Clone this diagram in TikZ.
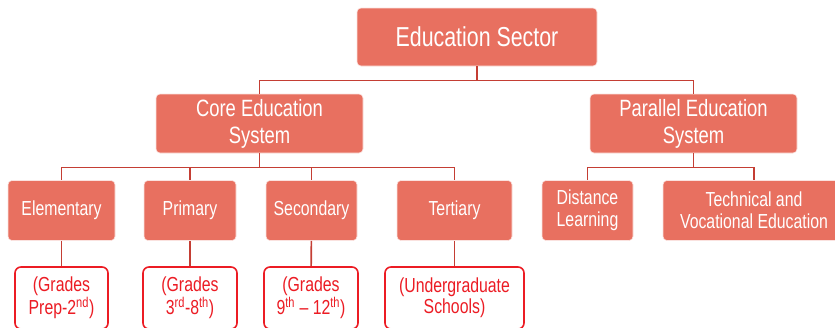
\documentclass[tikz,border=0pt]{standalone}
\usepackage{fontspec}
\setmainfont{Liberation Sans}[FakeStretch=0.78]
\usepackage{xcolor}
\usepackage{tikz}
\usetikzlibrary{positioning, calc}

\definecolor{salmon}{RGB}{232,112,96}
\definecolor{linkred}{RGB}{196,62,52}
\definecolor{gradered}{RGB}{236,28,36}

\begin{document}
\begin{tikzpicture}[
  x=1pt, y=-1pt,
  topblock/.style={rectangle, rounded corners=4pt, fill=salmon, draw=white!80!salmon, line width=0.6pt, text=white, align=center, inner sep=2pt},
  gradeblock/.style={rectangle, rounded corners=6pt, draw=gradered, line width=1.6pt, fill=white, text=gradered, align=center, inner sep=2pt, font=\fontsize{20.3}{21}\selectfont},
  link/.style={draw=linkred, line width=1.6pt}
]
\useasboundingbox (0,0) rectangle (835,327);

% Top level
\node[topblock, minimum width=240pt, minimum height=58pt, font=\fontsize{27.4}{30}\selectfont] (sector) at (477,37) {Education Sector};

% Second level
\node[topblock, minimum width=207pt, minimum height=59pt, font=\fontsize{23.6}{27}\selectfont] (core) at (259.5,123.5) {Core Education\\System};
\node[topblock, minimum width=207pt, minimum height=59pt, font=\fontsize{23.6}{27}\selectfont] (parallel) at (693.5,123.5) {Parallel Education\\System};

% Third level
\node[topblock, minimum width=107pt, minimum height=60pt, font=\fontsize{20.3}{22}\selectfont] (elem) at (61.5,210.5) {Elementary};
\node[topblock, minimum width=92pt, minimum height=60pt, font=\fontsize{20.3}{22}\selectfont] (prim) at (190,210.5) {Primary};
\node[topblock, minimum width=91pt, minimum height=60pt, font=\fontsize{20.3}{22}\selectfont] (sec) at (311.5,210.5) {Secondary};
\node[topblock, minimum width=115pt, minimum height=60pt, font=\fontsize{20.3}{22}\selectfont] (tert) at (454.5,210.5) {Tertiary};
\node[topblock, minimum width=91pt, minimum height=60pt, font=\fontsize{20.3}{22}\selectfont] (dist) at (587.5,210.5) {Distance\\Learning};
\node[topblock, minimum width=182pt, minimum height=60pt, font=\fontsize{20.3}{22}\selectfont] (tech) at (754,210.5) {Technical and\\Vocational Education};

% Grades
\node[gradeblock, minimum width=93pt, minimum height=62pt] (gelem) at (61.5,298) {(Grades\\Prep-2\textsuperscript{nd})};
\node[gradeblock, minimum width=94pt, minimum height=62pt] (gprim) at (190,298) {(Grades\\3\textsuperscript{rd}-8\textsuperscript{th})};
\node[gradeblock, minimum width=94pt, minimum height=62pt] (gsec) at (311,298) {(Grades\\9\textsuperscript{th} -- 12\textsuperscript{th})};
\node[gradeblock, minimum width=139pt, minimum height=62pt] (gtert) at (454.5,298) {(Undergraduate\\Schools)};

% Links
\draw[link] (sector.south) -- ++(0,14) -| (core.north);
\draw[link] (sector.south) -- ++(0,14) -| (parallel.north);
\foreach \n in {elem,prim,sec,tert}
  \draw[link] (core.south) -- ++(0,14) -| (\n.north);
\foreach \n in {dist,tech}
  \draw[link] (parallel.south) -- ++(0,14) -| (\n.north);
\draw[link] (elem) -- (gelem);
\draw[link] (prim) -- (gprim);
\draw[link] (sec) -- (gsec);
\draw[link] (tert) -- (gtert);

\end{tikzpicture}
\end{document}
